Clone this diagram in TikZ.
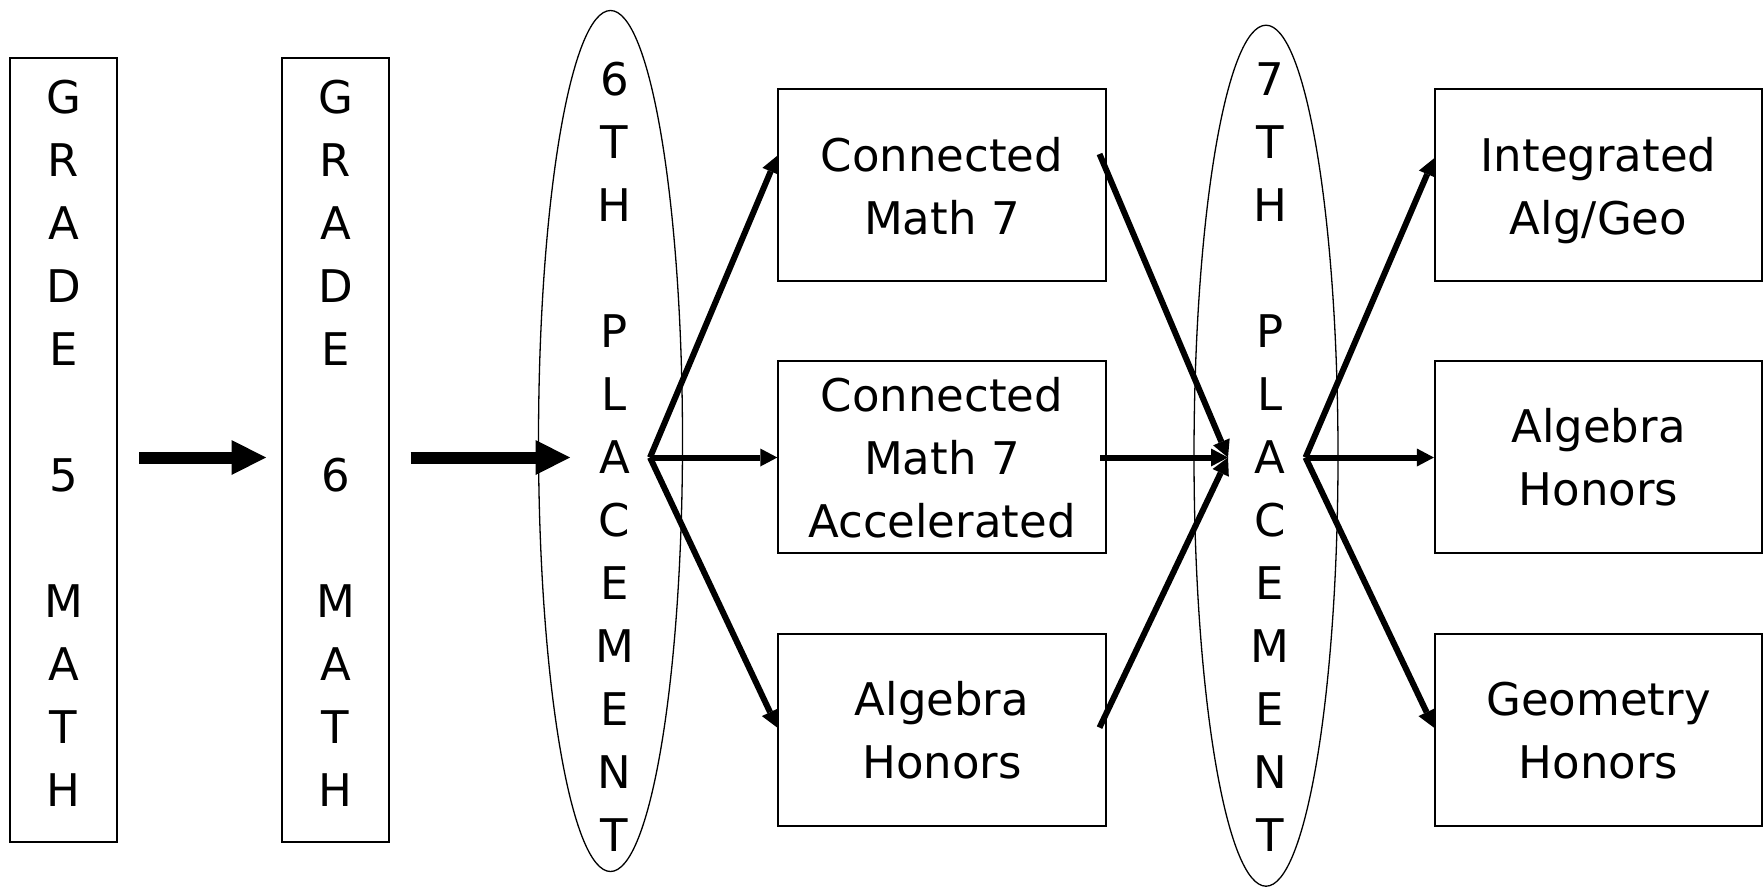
\documentclass[tikz,border=0pt]{standalone}
\usepackage{fontspec}
\setmainfont{DejaVu Sans}
\usetikzlibrary{shapes.geometric,arrows.meta,calc}
\begin{document}
\begin{tikzpicture}[x=1pt,y=-1pt,
  bigfont/.style={font=\fontsize{45pt}{63pt}\selectfont},
  box/.style={draw,line width=2pt,inner sep=0pt,align=center,text depth=0pt,bigfont},
  colbox/.style={box,minimum width=106.4pt,minimum height=784.2pt,text depth=12.8pt},
  crsbox/.style={box,minimum width=327.2pt,minimum height=192pt},
  oval/.style={draw,ellipse,line width=1.3pt,minimum width=144pt,minimum height=861pt,inner sep=0pt},
  lbl/.style={inner sep=0pt,align=center,text depth=0pt,bigfont},
  bigarrow/.style={line width=12pt,-{Triangle[length=34.5pt,width=35pt,line width=0pt]}},
  thinarrow/.style={line width=6pt,-{Triangle[length=17pt,width=18pt,line width=0pt]}}]
\useasboundingbox (0,0) rectangle (1763,888);

\node[colbox] (b1) at (63.5,449.9) {G\\R\\A\\D\\E\\~\\5\\~\\M\\A\\T\\H};
\node[colbox] (b2) at (335.6,449.9) {G\\R\\A\\D\\E\\~\\6\\~\\M\\A\\T\\H};

\node[oval] (e1) at (610.5,441) {};
\node[lbl] (t1) at (614.5,456.7) {6\\T\\H\\~\\P\\L\\A\\C\\E\\M\\E\\N\\T};
\node[oval] (e2) at (1266,455.7) {};
\node[lbl] (t2) at (1270,457.5) {7\\T\\H\\~\\P\\L\\A\\C\\E\\M\\E\\N\\T};

\node[crsbox] (m1) at (941.9,185.45) {Connected\\Math 7};
\node[crsbox] (m2) at (941.9,457) {Connected\\Math 7\\Accelerated};
\node[crsbox] (m3) at (941.9,729.8) {Algebra\\Honors};

\node[crsbox] (r1) at (1598.5,185.45) {Integrated\\Alg/Geo};
\node[crsbox] (r2) at (1598.5,457) {Algebra\\Honors};
\node[crsbox] (r3) at (1598.5,729.8) {Geometry\\Honors};

\coordinate (p1) at (139,457.5);
\coordinate (p2) at (266,457.5);
\coordinate (p3) at (410.6,457.5);
\coordinate (p4) at (570,457.5);
\coordinate (e1out) at (650,457.5);
\coordinate (e2in) at (1228,457.5);
\coordinate (e2out) at (1305.5,457.5);

\draw[bigarrow] (p1) -- (p2);
\draw[bigarrow] (p3) -- (p4);

\draw[thinarrow] (e1out) -- ($(m1.west)+(0,-29.75)$);
\draw[thinarrow] (e1out) -- (m2.west |- e1out);
\draw[thinarrow] (e1out) -- ($(m3.west)+(0,-2.2)$);

\draw[thinarrow] ($(m1.east)+(-7,-31.45)$) -- (e2in);
\draw[thinarrow] ($(m2.east |- e2in)+(-6.5,0)$) -- (e2in);
\draw[thinarrow] ($(m3.east)+(-7,-2.2)$) -- (e2in);

\draw[thinarrow] (e2out) -- ($(r1.west)+(0,-27)$);
\draw[thinarrow] (e2out) -- (r2.west |- e2out);
\draw[thinarrow] (e2out) -- ($(r3.west)+(0,-2.2)$);
\end{tikzpicture}
\end{document}
